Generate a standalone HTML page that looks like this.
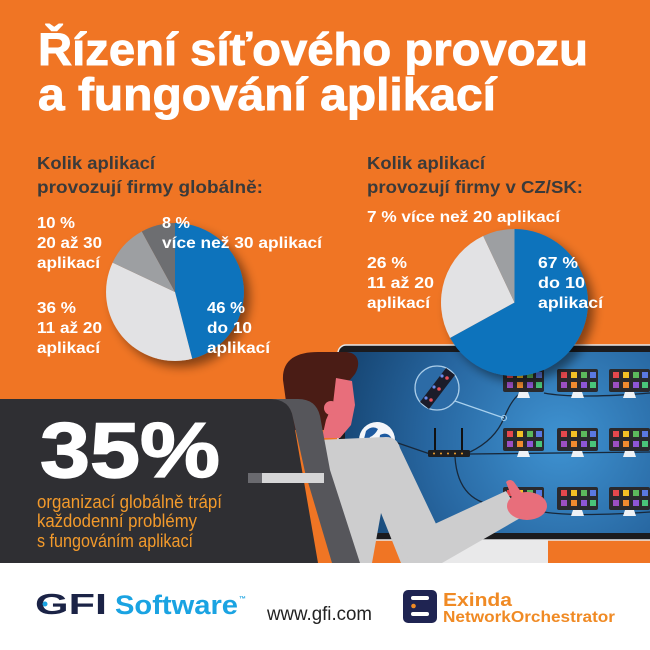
<!DOCTYPE html>
<html><head><meta charset="utf-8"><style>
html,body{margin:0;padding:0;background:#fff;}
svg{display:block;}
text{font-family:"Liberation Sans","DejaVu Sans",sans-serif;}
</style></head><body>
<svg width="650" height="650" viewBox="0 0 650 650" xmlns="http://www.w3.org/2000/svg">
<defs>
<radialGradient id="scr" cx="560" cy="440" r="220" gradientUnits="userSpaceOnUse">
<stop offset="0" stop-color="#3f93d2"/><stop offset="0.6" stop-color="#2766a0"/><stop offset="1" stop-color="#174775"/>
</radialGradient>
<filter id="sh" x="-30%" y="-30%" width="160%" height="160%">
<feDropShadow dx="6" dy="6" stdDeviation="5" flood-color="#000" flood-opacity="0.45"/>
</filter>
</defs>
<rect x="0" y="0" width="650" height="650" fill="#f07524"/>

<!-- Title -->
<g fill="#fff" stroke="#fff" stroke-width="0.9" font-weight="bold" font-size="45">
<text x="38" y="65" textLength="550" lengthAdjust="spacingAndGlyphs">Řízení síťového provozu</text>
<text x="38" y="110" textLength="458" lengthAdjust="spacingAndGlyphs">a fungování aplikací</text>
</g>

<!-- Subheadings -->
<g fill="#3a3a3a" font-weight="bold" font-size="17.5">
<text x="37" y="169" textLength="118" lengthAdjust="spacingAndGlyphs">Kolik aplikací</text>
<text x="37" y="193" textLength="226" lengthAdjust="spacingAndGlyphs">provozují firmy globálně:</text>
<text x="367" y="169" textLength="118" lengthAdjust="spacingAndGlyphs">Kolik aplikací</text>
<text x="367" y="193" textLength="216" lengthAdjust="spacingAndGlyphs">provozují firmy v CZ/SK:</text>
</g>

<!-- Monitor -->
<rect x="338" y="345" width="330" height="195" rx="8" fill="#1b1b1e" stroke="#e8e8e8" stroke-width="1.5"/>
<rect x="345" y="352" width="310" height="181" fill="url(#scr)"/>
<rect x="440" y="540" width="108" height="23" fill="#e9e9ea"/>

<!-- cables -->
<g fill="none" stroke="#18283a" stroke-width="1.3">
<path d="M395,442 L430,454"/>
<path d="M470,454 L650,452"/>
<path d="M470,452 Q495,440 504,418 Q512,398 522,392"/>
<path d="M544,393 Q575,399 650,393"/>
<path d="M455,457 Q458,505 503,506"/>
<path d="M544,512 Q575,517 650,512"/>
</g>
<!-- magnifier -->
<line x1="452" y1="400" x2="504" y2="418" stroke="#a9d1ee" stroke-width="1.2"/>
<circle cx="504" cy="418" r="2.5" fill="none" stroke="#a9d1ee" stroke-width="1"/>
<circle cx="437" cy="388" r="22" fill="#2c6ba6" stroke="#a9cce8" stroke-width="1.3"/>
<path d="M420,402 L446,368 L455,375 L429,409 Z" fill="#1b1c2a"/>
<g fill="#e8505a"><circle cx="431" cy="400" r="1.8"/><circle cx="439" cy="389" r="1.8"/><circle cx="447" cy="378" r="1.8"/></g>
<g fill="#6a8cf0"><circle cx="426" cy="398" r="1.6"/><circle cx="434" cy="387" r="1.6"/><circle cx="442" cy="376" r="1.6"/></g>
<!-- router -->
<line x1="435" y1="428" x2="435" y2="451" stroke="#111" stroke-width="2"/>
<line x1="462" y1="428" x2="462" y2="451" stroke="#111" stroke-width="2"/>
<rect x="428" y="450" width="42" height="7" rx="1.5" fill="#1e1e20"/>
<g fill="#f0a030"><circle cx="434" cy="453.5" r="1"/><circle cx="441" cy="453.5" r="1"/><circle cx="448" cy="453.5" r="1"/><circle cx="455" cy="453.5" r="1"/><circle cx="462" cy="453.5" r="1"/></g>
<!-- globe -->
<circle cx="377" cy="440" r="18" fill="#f4f6fa"/>
<path d="M366,431 q6,-6 12,-2 q-3,6 -8,8 q-3,6 -6,2 z M380,435 q8,-4 12,4 q-2,8 -8,6 q-6,2 -4,-10 z M368,445 q6,2 6,8 q-4,2 -8,-4 z" fill="#1d5aa0"/>

<!-- small monitors -->
<g id="mons">
<g transform="translate(503,369)">
<rect width="41" height="23" rx="2" fill="#2a2a2e"/>
<rect x="4" y="3" width="6" height="6" fill="#e5484d"/><rect x="14" y="3" width="6" height="6" fill="#f4c025"/><rect x="24" y="3" width="6" height="6" fill="#5cb85c"/><rect x="33" y="3" width="6" height="6" fill="#5a78e0"/>
<rect x="4" y="13" width="6" height="6" fill="#9b4fc2"/><rect x="14" y="13" width="6" height="6" fill="#ef8a2f"/><rect x="24" y="13" width="6" height="6" fill="#8e56d6"/><rect x="33" y="13" width="6" height="6" fill="#49c47a"/>
<path d="M16,23 H25 L27,29 H14 Z" fill="#eef2f6"/>
</g>
</g>
<use href="#mons" x="54" y="0"/><use href="#mons" x="106" y="0"/>
<use href="#mons" x="0" y="59"/><use href="#mons" x="54" y="59"/><use href="#mons" x="106" y="59"/>
<use href="#mons" x="0" y="118"/><use href="#mons" x="54" y="118"/><use href="#mons" x="106" y="118"/>

<!-- Left pie -->
<g filter="url(#sh)">
<path d="M175,292 L175,223 A69,69 0 0 1 192.2,358.8 Z" fill="#1173bc"/>
<path d="M175,292 L192.2,358.8 A69,69 0 0 1 112.6,262.6 Z" fill="#e2e2e4"/>
<path d="M175,292 L112.6,262.6 A69,69 0 0 1 141.8,231.5 Z" fill="#9d9fa2"/>
<path d="M175,292 L141.8,231.5 A69,69 0 0 1 175,223 Z" fill="#6d6e71"/>
</g>
<!-- Right pie -->
<g filter="url(#sh)">
<path d="M514.5,302.5 L514.5,229 A73.5,73.5 0 1 1 450.1,337.9 Z" fill="#1173bc"/>
<path d="M514.5,302.5 L450.1,337.9 A73.5,73.5 0 0 1 483.2,236 Z" fill="#e2e2e4"/>
<path d="M514.5,302.5 L483.2,236 A73.5,73.5 0 0 1 514.5,229 Z" fill="#9d9fa2"/>
</g>

<!-- Labels -->
<g fill="#fff" font-weight="bold" font-size="15.5">
<text x="37" y="228" textLength="38" lengthAdjust="spacingAndGlyphs">10 %</text>
<text x="37" y="248" textLength="65" lengthAdjust="spacingAndGlyphs">20 až 30</text>
<text x="37" y="268" textLength="63" lengthAdjust="spacingAndGlyphs">aplikací</text>
<text x="162" y="228" textLength="28" lengthAdjust="spacingAndGlyphs">8 %</text>
<text x="162" y="248" textLength="160" lengthAdjust="spacingAndGlyphs">více než 30 aplikací</text>
<text x="37" y="313" textLength="39" lengthAdjust="spacingAndGlyphs">36 %</text>
<text x="37" y="333" textLength="65" lengthAdjust="spacingAndGlyphs">11 až 20</text>
<text x="37" y="353" textLength="63" lengthAdjust="spacingAndGlyphs">aplikací</text>
<text x="207" y="313" textLength="38" lengthAdjust="spacingAndGlyphs">46 %</text>
<text x="207" y="333" textLength="45" lengthAdjust="spacingAndGlyphs">do 10</text>
<text x="207" y="353" textLength="63" lengthAdjust="spacingAndGlyphs">aplikací</text>
<text x="367" y="222" textLength="193" lengthAdjust="spacingAndGlyphs">7 % více než 20 aplikací</text>
<text x="367" y="268" textLength="40" lengthAdjust="spacingAndGlyphs">26 %</text>
<text x="367" y="288" textLength="67" lengthAdjust="spacingAndGlyphs">11 až 20</text>
<text x="367" y="308" textLength="63" lengthAdjust="spacingAndGlyphs">aplikací</text>
<text x="538" y="268" textLength="40" lengthAdjust="spacingAndGlyphs">67 %</text>
<text x="538" y="288" textLength="47" lengthAdjust="spacingAndGlyphs">do 10</text>
<text x="538" y="308" textLength="65" lengthAdjust="spacingAndGlyphs">aplikací</text>
</g>

<!-- Person head -->
<path d="M283,380 C282,360 296,352 318,352 L345,352 C359,352 361,364 355,374 L350,380 L340,382 L336,405 L330,430 L290,430 Z" fill="#4a1c15"/>
<path d="M336,378 L352,381 L355,405 L351,425 L340,438 L322,438 L326,420 L333,404 Z" fill="#e86e7b"/>
<circle cx="331" cy="408" r="7" fill="#e86e7b"/>

<!-- Dark panel -->
<path d="M0,399 H272 Q290,399 293,418 L318,563 H0 Z" fill="#2f2f33"/>

<!-- Torso -->
<path d="M318,440 L386,437 Q397,437 400,448 L447,547 L425,563 L401,563 L381,513 L372,563 L340,563 L318,480 Z" fill="#cdcdce"/>
<!-- forearm -->
<path d="M400,540 L506,491 L522,517 L442,563 L410,563 Z" fill="#cdcdce"/>
<!-- hand -->
<ellipse cx="527" cy="506" rx="20" ry="14" fill="#e86e7b"/>
<path d="M512,498 L506,482 Q510,478 514,482 L524,496 Z" fill="#e86e7b"/>

<!-- Chair band -->
<path d="M270,399 H298 Q316,399 320,416 L330,470 L360,563 H332 L305,472 L293,418 Q290,399 270,399 Z" fill="#56565b"/>
<rect x="248" y="473" width="14" height="10" fill="#6a6a6f"/>
<rect x="262" y="473" width="62" height="10" fill="#d6d6d7"/>

<!-- 35% -->
<text x="40" y="477" fill="#fff" stroke="#fff" stroke-width="1.5" font-weight="bold" font-size="78" textLength="180" lengthAdjust="spacingAndGlyphs">35%</text>
<g fill="#f39a2b" font-size="18">
<text x="37" y="508" textLength="185" lengthAdjust="spacingAndGlyphs">organizací globálně trápí</text>
<text x="37" y="527" textLength="160" lengthAdjust="spacingAndGlyphs">každodenní problémy</text>
<text x="37" y="547" textLength="156" lengthAdjust="spacingAndGlyphs">s fungováním aplikací</text>
</g>

<!-- Footer -->
<rect x="0" y="563" width="650" height="87" fill="#ffffff"/>
<text x="35" y="614" fill="#1b2346" font-weight="bold" font-size="29" textLength="72" lengthAdjust="spacingAndGlyphs">GFI</text>
<circle cx="45" cy="604" r="2.5" fill="#1aa3e2"/>
<text x="115" y="614" fill="#1aa3e2" font-weight="bold" font-size="27" textLength="123" lengthAdjust="spacingAndGlyphs">Software</text>
<text x="239" y="601" fill="#1aa3e2" font-weight="bold" font-size="7">™</text>
<text x="267" y="620" fill="#222" font-size="19" textLength="105" lengthAdjust="spacingAndGlyphs">www.gfi.com</text>
<rect x="403" y="590" width="34" height="33" rx="5" fill="#1f2452"/>
<rect x="411" y="596" width="18" height="4" rx="2" fill="#fff"/>
<rect x="411" y="612" width="18" height="4" rx="2" fill="#fff"/>
<circle cx="413.5" cy="606" r="2.3" fill="#f08a24"/>
<text x="443" y="606" fill="#f08a24" font-weight="bold" font-size="18" textLength="69" lengthAdjust="spacingAndGlyphs">Exinda</text>
<text x="443" y="622" fill="#f08a24" font-weight="bold" font-size="15.5" textLength="172" lengthAdjust="spacingAndGlyphs">NetworkOrchestrator</text>
</svg>
</body></html>
